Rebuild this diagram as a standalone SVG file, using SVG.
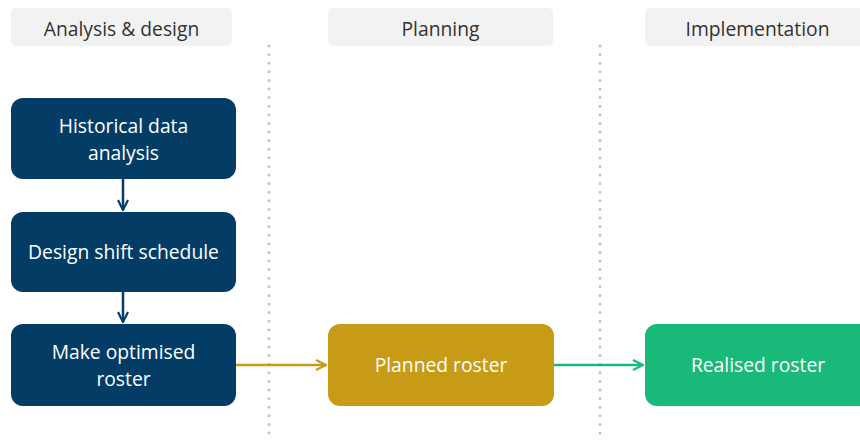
<svg xmlns="http://www.w3.org/2000/svg" width="860" height="441" viewBox="0 0 860 441">
<defs>
<style>
.hdr{fill:#f2f2f2}
.hdrt{font-family:"Open Sans","Liberation Sans",sans-serif;font-size:19.3px;fill:#333333;text-anchor:middle}
.nt{font-family:"Open Sans","Liberation Sans",sans-serif;font-size:19.3px;fill:#ffffff;text-anchor:middle}
.blue{fill:#033d66}
.gold{fill:#c89b17}
.green{fill:#18b979}
.sep{stroke:#c4c4c4;stroke-width:3;stroke-linecap:round;stroke-dasharray:0 8.6;fill:none}
.conn{fill:none;stroke-width:2.5}
</style>
<marker id="ab" viewBox="0 0 12 12" refX="11" refY="6" markerWidth="12" markerHeight="12" markerUnits="userSpaceOnUse" orient="auto"><path d="M1,1 L11,6 L1,11" fill="none" stroke="#033d66" stroke-width="2.2"/></marker>
<marker id="ag" viewBox="0 0 12 12" refX="11" refY="6" markerWidth="12" markerHeight="12" markerUnits="userSpaceOnUse" orient="auto"><path d="M1,1 L11,6 L1,11" fill="none" stroke="#c89b17" stroke-width="2.2"/></marker>
<marker id="an" viewBox="0 0 12 12" refX="11" refY="6" markerWidth="12" markerHeight="12" markerUnits="userSpaceOnUse" orient="auto"><path d="M1,1 L11,6 L1,11" fill="none" stroke="#18b979" stroke-width="2.2"/></marker>
</defs>
<g id="headers">
<g id="h-analysis"><rect class="hdr" x="11" y="8" width="221" height="38" rx="5"/><text class="hdrt" x="121.5" y="35.5">Analysis &amp; design</text></g>
<g id="h-planning"><rect class="hdr" x="328" y="8" width="225" height="38" rx="5"/><text class="hdrt" x="440.5" y="35.5">Planning</text></g>
<g id="h-implementation"><rect class="hdr" x="645" y="8" width="225" height="38" rx="5"/><text class="hdrt" x="757.5" y="35.5">Implementation</text></g>
</g>
<g id="separators">
<line class="sep" x1="269" y1="46" x2="269" y2="441"/>
<line class="sep" x1="600" y1="46" x2="600" y2="441"/>
</g>
<g id="connectors">
<line class="conn" stroke="#033d66" x1="123" y1="179" x2="123" y2="210" marker-end="url(#ab)"/>
<line class="conn" stroke="#033d66" x1="123" y1="292" x2="123" y2="322" marker-end="url(#ab)"/>
<line class="conn" stroke="#c89b17" x1="236" y1="365" x2="326" y2="365" marker-end="url(#ag)"/>
<line class="conn" stroke="#18b979" x1="554" y1="365" x2="643" y2="365" marker-end="url(#an)"/>
</g>
<g id="n-historical"><rect class="blue" x="11" y="98" width="225" height="81" rx="12"/><text class="nt" x="123.5" y="133">Historical data</text><text class="nt" x="123.5" y="160">analysis</text></g>
<g id="n-design"><rect class="blue" x="11" y="212" width="225" height="80" rx="12"/><text class="nt" x="123.5" y="259">Design shift schedule</text></g>
<g id="n-make"><rect class="blue" x="11" y="324" width="225" height="82" rx="12"/><text class="nt" x="123.5" y="359">Make optimised</text><text class="nt" x="123.5" y="386">roster</text></g>
<g id="n-planned"><rect class="gold" x="328" y="324" width="226" height="82" rx="12"/><text class="nt" x="441" y="372">Planned roster</text></g>
<g id="n-realised"><rect class="green" x="645" y="324" width="228" height="82" rx="12"/><text class="nt" x="758" y="372">Realised roster</text></g>
</svg>
